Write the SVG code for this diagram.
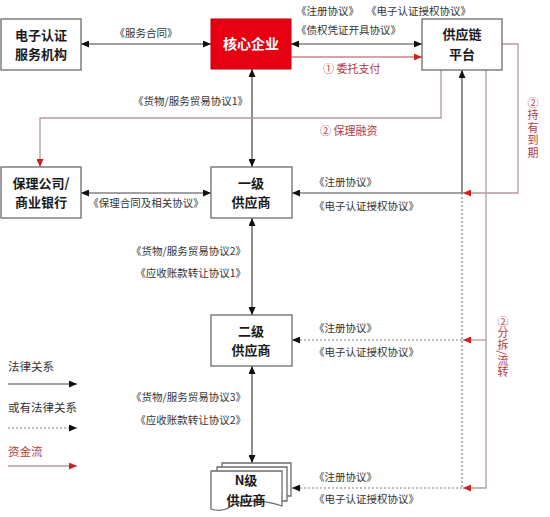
<svg xmlns="http://www.w3.org/2000/svg" width="550" height="517" viewBox="0 0 550 517">
<defs>
<marker id="ab" markerWidth="8" markerHeight="7" refX="8" refY="3.5" orient="auto-start-reverse" markerUnits="userSpaceOnUse"><path d="M0,0 L8,3.5 L0,7 z" fill="#111"/></marker>
<marker id="ar" markerWidth="8" markerHeight="7" refX="8" refY="3.5" orient="auto-start-reverse" markerUnits="userSpaceOnUse"><path d="M0,0 L8,3.5 L0,7 z" fill="#d21f26"/></marker>
</defs>
<style>
.box{fill:#fff;stroke:#6b6b6b;stroke-width:1.3}
.bt{font-family:"Noto Sans CJK SC","Noto Sans",sans-serif;font-size:13px;font-weight:bold;fill:#1a1a1a;text-anchor:middle}
.lb{font-family:"Noto Sans CJK SC","Noto Sans",sans-serif;font-size:10.5px;fill:#333}
.rt{font-family:"Noto Sans CJK SC","Noto Sans",sans-serif;font-size:11px;fill:#b23a40}
.vt{font-family:"Noto Sans CJK SC","Noto Sans",sans-serif;font-size:11px;fill:#b23a40;writing-mode:vertical-rl;letter-spacing:1.5px}
.lg{font-family:"Noto Sans CJK SC","Noto Sans",sans-serif;font-size:11.5px;fill:#333}
.law{stroke:#444;stroke-width:1.2;fill:none}
.dot{stroke:#808080;stroke-width:1.2;stroke-dasharray:2,2;fill:none}
.money{stroke:#b39a9c;stroke-width:1.3;fill:none}
</style>
<rect width="550" height="517" fill="#fff"/>

<g id="connectors">
<line class="law" x1="81" y1="44" x2="211" y2="44" marker-start="url(#ab)" marker-end="url(#ab)"/>
<line class="law" x1="291" y1="44" x2="422" y2="44" marker-start="url(#ab)" marker-end="url(#ab)"/>
<line class="money" x1="291" y1="57" x2="422" y2="57" style="stroke:#c98686" marker-end="url(#ar)"/>
<line class="law" x1="252" y1="69" x2="252" y2="167" marker-start="url(#ab)" marker-end="url(#ab)"/>
<polyline class="money" points="441,70 441,118 40,118 40,167" marker-end="url(#ar)"/>
<line class="law" x1="81" y1="193" x2="211" y2="193" marker-start="url(#ab)" marker-end="url(#ab)"/>
<line class="law" x1="252" y1="218" x2="252" y2="315" marker-start="url(#ab)" marker-end="url(#ab)"/>
<line class="law" x1="252" y1="366" x2="252" y2="463" marker-start="url(#ab)" marker-end="url(#ab)"/>
<line class="law" x1="462" y1="193" x2="462" y2="70" marker-end="url(#ab)"/>
<line class="dot" x1="462" y1="193" x2="462" y2="488"/>
<line class="law" x1="462" y1="193" x2="292" y2="193" marker-end="url(#ab)"/>
<line class="dot" x1="462" y1="340" x2="292" y2="340" marker-end="url(#ab)"/>
<line class="dot" x1="462" y1="488" x2="292" y2="488" marker-end="url(#ab)"/>
<polyline class="money" points="502,44 518,44 518,193 463,193" marker-end="url(#ar)"/>
<polyline class="money" points="486,70 486,488 463,488" marker-end="url(#ar)"/>
<line class="money" x1="486" y1="340" x2="463" y2="340" marker-end="url(#ar)"/>
</g>

<g id="labels">
<text class="lb" x="146" y="37" text-anchor="middle">《服务合同》</text>
<text class="lb" x="296" y="15">《注册协议》</text>
<text class="lb" x="366" y="15">《电子认证授权协议》</text>
<text class="lb" x="296" y="34">《债权凭证开具协议》</text>
<text class="rt" x="323" y="73">① 委托支付</text>
<text class="lb" x="248" y="105" text-anchor="end">《货物/服务贸易协议1》</text>
<text class="rt" x="320" y="135">② 保理融资</text>
<text class="lb" x="146" y="207" text-anchor="middle">《保理合同及相关协议》</text>
<text class="lb" x="314" y="186">《注册协议》</text>
<text class="lb" x="314" y="210">《电子认证授权协议》</text>
<text class="lb" x="246" y="255" text-anchor="end">《货物/服务贸易协议2》</text>
<text class="lb" x="246" y="277" text-anchor="end">《应收账款转让协议1》</text>
<text class="lb" x="314" y="332">《注册协议》</text>
<text class="lb" x="314" y="356">《电子认证授权协议》</text>
<text class="lb" x="246" y="401" text-anchor="end">《货物/服务贸易协议3》</text>
<text class="lb" x="246" y="424" text-anchor="end">《应收账款转让协议2》</text>
<text class="lb" x="314" y="481">《注册协议》</text>
<text class="lb" x="314" y="503">《电子认证授权协议》</text>
<text class="vt" x="533" y="97">②持有到期</text>
<text class="vt" x="503" y="316" style="letter-spacing:0.5px">②分拆/流转</text>
</g>

<g id="node-eauth">
<rect class="box" x="1" y="19" width="80" height="51"/>
<text class="bt" x="41" y="39.5"><tspan x="41">电子认证</tspan><tspan x="41" dy="19.5">服务机构</tspan></text>
</g>
<g id="node-core">
<rect x="211" y="19" width="80" height="50" fill="#e60012" stroke="#c00010"/>
<text class="bt" x="251" y="49" style="fill:#fff;font-size:14px">核心企业</text>
</g>
<g id="node-platform">
<rect class="box" x="422" y="19" width="80" height="51"/>
<text class="bt" x="462" y="39"><tspan x="462">供应链</tspan><tspan x="462" dy="19.5">平台</tspan></text>
</g>
<g id="node-factor">
<rect class="box" x="1" y="167" width="80" height="51"/>
<text class="bt" x="41" y="187.5"><tspan x="41">保理公司/</tspan><tspan x="41" dy="19.5">商业银行</tspan></text>
</g>
<g id="node-tier1">
<rect class="box" x="211" y="167" width="81" height="51"/>
<text class="bt" x="251" y="187.5"><tspan x="251">一级</tspan><tspan x="251" dy="19.5">供应商</tspan></text>
</g>
<g id="node-tier2">
<rect class="box" x="211" y="315" width="81" height="51"/>
<text class="bt" x="251" y="335.5"><tspan x="251">二级</tspan><tspan x="251" dy="19.5">供应商</tspan></text>
</g>
<g id="node-tierN">
<path class="box" d="M222,467 V463 H291 V496 H287"/>
<path class="box" d="M217,471 V467 H287 V501 H282"/>
<path class="box" d="M211,471 H282 V506 C262,499 240,500 230,507 C224,511 217,511 211,509 Z"/>
<text class="bt" x="246" y="485"><tspan x="246">N级</tspan><tspan x="246" dy="19.5">供应商</tspan></text>
</g>

<g id="legend">
<text class="lg" x="8" y="371">法律关系</text>
<line class="law" x1="8" y1="384" x2="77" y2="384" marker-end="url(#ab)"/>
<text class="lg" x="8" y="412">或有法律关系</text>
<line class="dot" x1="8" y1="428" x2="77" y2="428" marker-end="url(#ab)"/>
<text class="lg" x="8" y="456" style="fill:#b23a40">资金流</text>
<line class="money" x1="8" y1="466" x2="77" y2="466" marker-end="url(#ar)"/>
</g>
</svg>
